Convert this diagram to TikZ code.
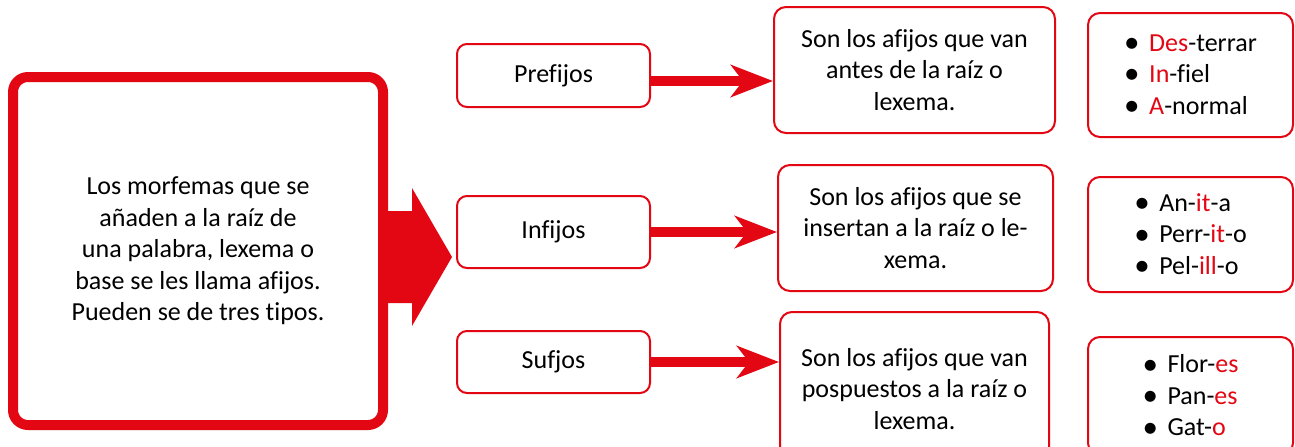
\documentclass[tikz,border=0pt]{standalone}
\usepackage{fontspec}
\setmainfont{Carlito}[Ligatures=CommonOff]
\usetikzlibrary{arrows.meta}
\definecolor{afred}{RGB}{227,6,19}
\newcommand{\rd}[1]{{\color{afred}#1}}
\newcommand{\bul}{\makebox[12.5pt][l]{\raisebox{-0.6pt}{\fontsize{15.5pt}{0pt}\selectfont•}}}

\begin{document}
\begin{tikzpicture}[x=1pt,y=1pt]

\tikzset{
mainbox/.style={draw=afred,line width=5pt,rounded corners=7.5pt,minimum width=185pt,minimum height=174pt,inner sep=0pt,align=center},
typebox/.style={draw=afred,line width=1pt,rounded corners=5pt,minimum width=96.5pt,inner sep=0pt},
defbox/.style={draw=afred,line width=1pt,rounded corners=6pt,inner sep=0pt,align=center},
exbox/.style={draw=afred,line width=1pt,rounded corners=6pt,minimum width=102.5pt,inner sep=0pt,align=left},
link/.style={-{Stealth[length=21pt,width=16pt,inset=6pt]},line width=5pt,draw=afred},
font={\fontsize{13pt}{15.75pt}\selectfont}
}
\useasboundingbox (0,0) rectangle (647.5,223);
\clip (0,0) rectangle (647.5,223);

% main box
\node[mainbox] (main) at (99,97.5) {Los morfemas que se\\ añaden a la raíz de\\ una palabra, lexema o\\ base se les llama afijos.\\ Pueden se de tres tipos.};

% types
\node[typebox, minimum height=31.5pt] (pre) at (276.75,185.25) {Prefijos};
\node[typebox, minimum height=36pt]   (inf) at (276.75,107)    {Infijos};
\node[typebox, minimum height=31pt]   (suf) at (276.75,42)     {Sufjos};

% definitions
\node[defbox, minimum width=140.5pt, minimum height=63pt] (dpre) at (457.25,188) {Son los afijos que van\\ antes de la raíz o\\ lexema.};
\node[defbox, minimum width=137.5pt, minimum height=63pt] (dinf) at (457.75,109) {Son los afijos que se\\ insertan a la raíz o le-\\ xema.};
\node[defbox, minimum width=134.5pt, minimum height=77pt] (dsuf) at (457.25,28.5) {Son los afijos que van\\ pospuestos a la raíz o\\ lexema.};

% examples
\node[exbox, minimum height=62pt]   (epre) at (595.25,185.5)  {\bul\rd{Des}-terrar\\ \bul\rd{In}-fiel\\ \bul\rd{A}-normal};
\node[exbox, minimum height=57.5pt] (einf) at (595.25,105.75) {\bul An-\rd{it}-a\\ \bul Perr-\rd{it}-o\\ \bul Pel-\rd{ill}-o};
\node[exbox, minimum height=59pt]   (esuf) at (595.25,25)     {\bul Flor-\rd{es}\\ \bul Pan-\rd{es}\\ \bul Gat-\rd{o}};

% big arrow
\fill[afred] ([yshift=-3pt]main.east) ++(0,23) -- ++(12,0) -- ++(0,11.5) -- ++(20,-34.5)
  -- ++(-20,-34.5) -- ++(0,11.5) -- ++(-12,0) -- cycle;

% arrows
\coordinate (prestart) at ([yshift=-2.75pt]pre.east);
\draw[link] (prestart) -- (prestart -| dpre.west);
\draw[link] (inf.east) -- (inf.east -| dinf.west);
\draw[link] (suf.east) -- (suf.east -| dsuf.west);

\end{tikzpicture}
\end{document}
